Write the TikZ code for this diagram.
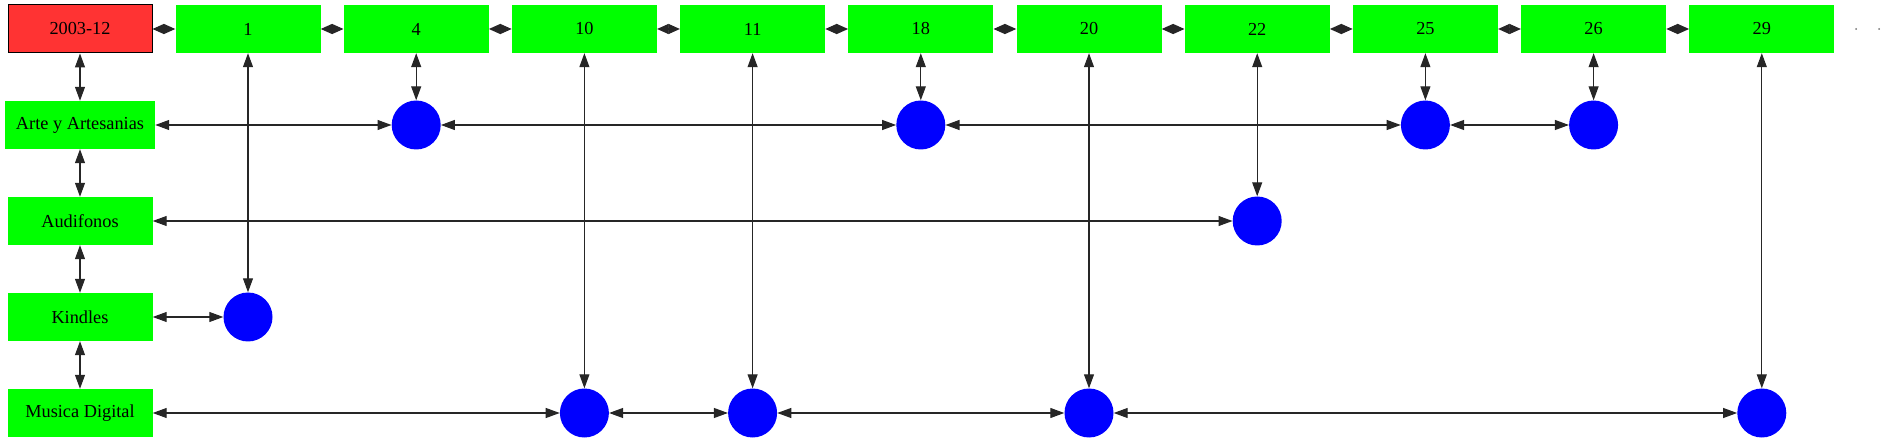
\documentclass[tikz,border=0pt]{standalone}
\usepackage{fontspec}
\setmainfont{Liberation Serif}
\usetikzlibrary{positioning,arrows.meta}
\definecolor{catgreen}{HTML}{00FF00}
\definecolor{datered}{HTML}{FF3333}
\definecolor{hitblue}{HTML}{0000FF}

\tikzset{
  catbox/.style={rectangle, fill=catgreen, minimum width=145pt, minimum height=48pt,
    inner xsep=11pt, font=\fontsize{18.3}{20}\selectfont},
  datebox/.style={catbox, fill=datered, draw=black, line width=1pt, minimum width=144pt},
  hit/.style={circle, fill=hitblue, minimum size=49pt, inner sep=0pt},
  link/.style={{Triangle[length=14pt,width=10pt]}-{Triangle[length=14pt,width=10pt]},
    line width=1.1pt, black!85},
  toplink/.style={link, {Triangle[length=11.5pt,width=10pt]}-{Triangle[length=11.5pt,width=10pt]}},
  tick/.style={circle, fill=black!55, inner sep=0pt, minimum size=2pt}
}

\begin{document}
\begin{tikzpicture}[x=1pt,y=-1pt]
  \useasboundingbox (0,0) rectangle (1885,443);

  % left column
  \node[datebox] (date) at (80,29) {2003-12};
  \node[catbox] (arte) at (80,125) {Arte y Artesanias};
  \node[catbox] (audi) at (80,221) {Audifonos};
  \node[catbox] (kind) at (80,317) {Kindles};
  \node[catbox] (musi) at (80,413) {Musica Digital};
  \draw[link] (date) -- (arte);
  \draw[link] (arte) -- (audi);
  \draw[link] (audi) -- (kind);
  \draw[link] (kind) -- (musi);

  % header row
  \foreach \lab [count=\k from 0] in {1,4,10,11,18,20,22,25,26,29}
    \node[catbox] (h\lab) at ({248+168.2*\k},29) {\lab};
  \draw[toplink] (date) -- (h1);
  \foreach \a/\b in {1/4,4/10,10/11,11/18,18/20,20/22,22/25,25/26,26/29}
    \draw[toplink] (h\a) -- (h\b);
  \node[tick] (e1) at (1856,29) {};
  \node[tick] (e2) at (1879,29) {};

  % Arte y Artesanias
  \node[hit] (a4) at (h4 |- arte) {};
  \node[hit] (a18) at (h18 |- arte) {};
  \node[hit] (a25) at (h25 |- arte) {};
  \node[hit] (a26) at (h26 |- arte) {};
  \draw[link] (arte) -- (a4);
  \draw[link] (a4) -- (a18);
  \draw[link] (a18) -- (a25);
  \draw[link] (a25) -- (a26);
  \draw[link] (h4) -- (a4);
  \draw[link] (h18) -- (a18);
  \draw[link] (h25) -- (a25);
  \draw[link] (h26) -- (a26);

  % Audifonos
  \node[hit] (u22) at (h22 |- audi) {};
  \draw[link] (audi) -- (u22);
  \draw[link] (h22) -- (u22);

  % Kindles
  \node[hit] (k1) at (h1 |- kind) {};
  \draw[link] (kind) -- (k1);
  \draw[link] (h1) -- (k1);

  % Musica Digital
  \node[hit] (m10) at (h10 |- musi) {};
  \node[hit] (m11) at (h11 |- musi) {};
  \node[hit] (m20) at (h20 |- musi) {};
  \node[hit] (m29) at (h29 |- musi) {};
  \draw[link] (musi) -- (m10);
  \draw[link] (m10) -- (m11);
  \draw[link] (m11) -- (m20);
  \draw[link] (m20) -- (m29);
  \draw[link] (h10) -- (m10);
  \draw[link] (h11) -- (m11);
  \draw[link] (h20) -- (m20);
  \draw[link] (h29) -- (m29);
\end{tikzpicture}
\end{document}
